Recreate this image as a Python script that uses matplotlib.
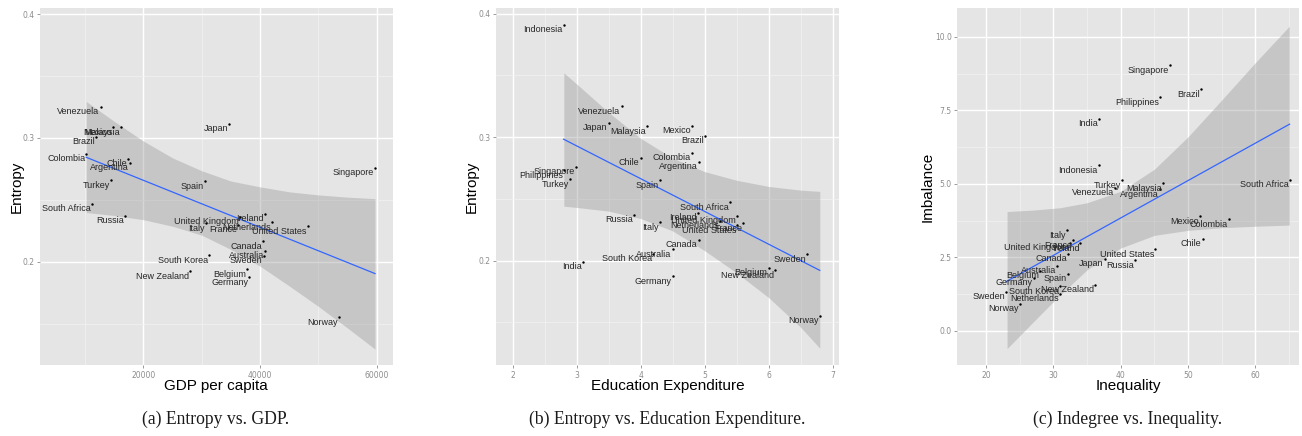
import numpy as np
import matplotlib
matplotlib.use("Agg")
import matplotlib.pyplot as plt

# panel (a): entropy vs GDP per capita
gdp_countries = ["Venezuela", "Mexico", "Malaysia", "Brazil", "Colombia", "Chile",
                 "Argentina", "Turkey", "Spain", "Japan", "Singapore", "South Africa",
                 "Russia", "South Korea", "New Zealand", "United Kingdom", "Italy",
                 "France", "Ireland", "Netherlands", "United States", "Canada",
                 "Australia", "Sweden", "Belgium", "Germany", "Norway"]
gdp = [12680, 14740, 16210, 11930, 10210, 17410, 17760, 14500, 30560, 34730, 59700,
       11140, 16800, 31240, 28040, 36560, 30730, 36300, 40840, 42040, 48210, 40560,
       40850, 40600, 37760, 38150, 53470]
gdp_entropy = [0.325, 0.3087, 0.3087, 0.3008, 0.2874, 0.2833, 0.2798, 0.2658, 0.265,
               0.3116, 0.276, 0.247, 0.237, 0.2054, 0.1922, 0.2363, 0.231, 0.230,
               0.2386, 0.232, 0.2286, 0.2167, 0.209, 0.205, 0.194, 0.1874, 0.1553]
# confidence band of the fit
gdp_band_x = [10210, 15000, 20000, 25000, 30000, 35000, 40000, 45000, 50000, 55000, 59700]
gdp_band_lo = [0.2398, 0.2374, 0.2340, 0.2287, 0.2215, 0.2100, 0.1965, 0.1805, 0.1640,
               0.1465, 0.1295]
gdp_band_hi = [0.3294, 0.3134, 0.2975, 0.2839, 0.2735, 0.2652, 0.2605, 0.2565, 0.2540,
               0.2522, 0.2510]

# panel (b): entropy vs education expenditure
edu_countries = ["Indonesia", "Venezuela", "Japan", "Malaysia", "Mexico", "Brazil",
                 "Chile", "Colombia", "Argentina", "Singapore", "Philippines", "Turkey",
                 "Spain", "South Africa", "Russia", "Italy", "Ireland", "United Kingdom",
                 "Netherlands", "France", "United States", "Canada", "Australia",
                 "South Korea", "India", "Sweden", "Belgium", "New Zealand", "Germany",
                 "Norway"]
edu = [2.797, 3.703, 3.5, 4.10, 4.80, 5.005, 4.0, 4.80, 4.906, 2.994, 2.80, 2.90,
       4.297, 5.40, 3.90, 4.30, 4.90, 5.505, 5.24, 5.60, 5.51, 4.906, 4.50, 4.20,
       3.10, 6.60, 6.0, 6.10, 4.50, 6.80]
edu_entropy = [0.391, 0.325, 0.3116, 0.3087, 0.309, 0.3008, 0.2833, 0.2874, 0.2798,
               0.276, 0.273, 0.2658, 0.265, 0.247, 0.237, 0.231, 0.2386, 0.2363,
               0.232, 0.230, 0.2286, 0.2167, 0.209, 0.2054, 0.199, 0.205, 0.194,
               0.1922, 0.1874, 0.1553]
edu_band_x = [2.8, 3.0, 3.5, 4.0, 4.5, 5.0, 5.5, 6.0, 6.5, 6.8]
edu_band_lo = [0.244, 0.243, 0.240, 0.234, 0.224, 0.208, 0.190, 0.170, 0.146, 0.129]
edu_band_hi = [0.352, 0.343, 0.320, 0.299, 0.283, 0.272, 0.265, 0.260, 0.257, 0.256]

# panel (c): imbalance vs inequality
ineq_countries = ["India", "Indonesia", "Singapore", "Brazil", "Philippines", "Turkey",
                  "Venezuela", "Malaysia", "Argentina", "South Africa", "Colombia",
                  "Mexico", "Chile", "United States", "Russia", "Japan", "New Zealand",
                  "Italy", "United Kingdom", "France", "Ireland", "Canada", "Australia",
                  "Spain", "Belgium", "Germany", "South Korea", "Netherlands", "Sweden",
                  "Norway"]
inequality = [36.76, 36.76, 47.36, 51.97, 45.87, 40.22, 39.14, 46.27, 45.87, 65.1,
              56.09, 51.8, 52.18, 45.09, 42.07, 37.6, 36.2, 31.95, 32.5, 32.9, 34.0,
              32.2, 30.56, 32.1, 28.0, 27.1, 31.0, 30.9, 22.97, 25.0]
imbalance = [7.21, 5.63, 9.03, 8.21, 7.95, 5.12, 4.86, 5.02, 4.81, 5.14, 3.79, 3.9,
             3.13, 2.77, 2.40, 2.46, 1.56, 3.42, 3.00, 3.08, 2.98, 2.63, 2.21, 1.94,
             2.05, 1.80, 1.52, 1.27, 1.34, 0.92]
ineq_band_x = [23.1, 27, 31, 35, 40, 45, 50, 55, 60, 65.05]
ineq_band_lo = [-0.60, 0.31, 1.23, 2.08, 2.82, 3.25, 3.42, 3.51, 3.56, 3.60]
ineq_band_hi = [4.06, 4.11, 4.19, 4.36, 4.75, 5.50, 6.60, 7.85, 9.12, 10.36]

BG = "#E5E5E5"
TICK = "#8c8c8c"


def panel(ax, names, x, y, band_x, band_lo, band_hi, xlim, ylim,
          xmaj, xmin, ymaj, ymin, xtl, ytl):
    x = np.array(x, float)
    y = np.array(y, float)
    ax.set_facecolor(BG)
    for s in ax.spines.values():
        s.set_visible(False)
    ax.set_xlim(xlim)
    ax.set_ylim(ylim)
    ax.set_xticks(xmaj)
    ax.set_xticklabels(xtl)
    ax.set_yticks(ymaj)
    ax.set_yticklabels(ytl)
    ax.set_xticks(xmin, minor=True)
    ax.set_yticks(ymin, minor=True)
    ax.set_axisbelow(True)
    ax.grid(which="major", color="white", lw=1.0)
    ax.grid(which="minor", color="#F2F2F2", lw=0.5)
    ax.tick_params(which="major", length=2.5, width=0.6, color=TICK,
                   labelcolor=TICK, labelsize=5.5, pad=1.5)
    ax.tick_params(which="minor", length=0)

    # band + least squares line
    ax.fill_between(band_x, band_lo, band_hi, color="#999999", alpha=0.4, lw=0, zorder=2)
    b1, b0 = np.polyfit(x, y, 1)
    xs = np.array([x.min(), x.max()])
    ax.plot(xs, b0 + b1 * xs, color="#3366FF", lw=0.9, zorder=3)

    ax.scatter(x, y, s=3, color="black", zorder=4, linewidths=0)
    for nm, xi, yi in zip(names, x, y):
        ax.annotate(nm, (xi, yi), xytext=(-0.8, -0.3), textcoords="offset points",
                    ha="right", va="top", fontsize=6.5, color="#262626",
                    family="Liberation Sans", zorder=5)


fig = plt.figure(figsize=(13.02, 4.36), dpi=100)
W, H = 1302.0, 436.0
bot = 1 - 365 / H
top = 1 - 8 / H

ax1 = fig.add_axes([40 / W, bot, (392.7 - 40) / W, top - bot])
panel(ax1, gdp_countries, gdp, gdp_entropy, gdp_band_x, gdp_band_lo, gdp_band_hi,
      (2280, 62730), (0.1167, 0.4049),
      [20000, 40000, 60000], [10000, 30000, 50000], [0.2, 0.3, 0.4], [0.15, 0.25, 0.35],
      ["20000", "40000", "60000"], ["0.2", "0.3", "0.4"])

ax2 = fig.add_axes([496 / W, bot, (839 - 496) / W, top - bot])
panel(ax2, edu_countries, edu, edu_entropy, edu_band_x, edu_band_lo, edu_band_hi,
      (1.74, 7.1), (0.1154, 0.4045),
      [2, 3, 4, 5, 6, 7], [2.5, 3.5, 4.5, 5.5, 6.5], [0.2, 0.3, 0.4], [0.15, 0.25, 0.35],
      ["2", "3", "4", "5", "6", "7"], ["0.2", "0.3", "0.4"])

ax3 = fig.add_axes([957.3 / W, bot, (1299 - 957.3) / W, top - bot])
panel(ax3, ineq_countries, inequality, imbalance, ineq_band_x, ineq_band_lo, ineq_band_hi,
      (15.7, 66.5), (-1.157, 10.98),
      [20, 30, 40, 50, 60], [25, 35, 45, 55, 65], [0, 2.5, 5, 7.5, 10],
      [1.25, 3.75, 6.25, 8.75], ["20", "30", "40", "50", "60"],
      ["0.0", "2.5", "5.0", "7.5", "10.0"])

ymid = (bot + top) / 2
lab = dict(fontsize=11, family="Liberation Sans", color="black")
fig.text(17 / W, ymid, "Entropy", rotation=90, ha="center", va="center", **lab)
fig.text(472 / W, ymid, "Entropy", rotation=90, ha="center", va="center", **lab)
fig.text(928 / W, ymid, "Imbalance", rotation=90, ha="center", va="center", **lab)

xl_y = 1 - 386 / H
fig.text((40 + 392.7) / 2 / W, xl_y, "GDP per capita", ha="center", va="center", **lab)
fig.text((496 + 839) / 2 / W, xl_y, "Education Expenditure", ha="center", va="center", **lab)
fig.text((957.3 + 1299) / 2 / W, xl_y, "Inequality", ha="center", va="center", **lab)

cap = dict(fontsize=12.7, family="Liberation Serif", color="#1a1a1a")
cap_y = 1 - 419 / H
fig.text(216 / W, cap_y, "(a) Entropy vs. GDP.", ha="center", va="center", **cap)
fig.text(667 / W, cap_y, "(b) Entropy vs. Education Expenditure.", ha="center", va="center", **cap)
fig.text(1128 / W, cap_y, "(c) Indegree vs. Inequality.", ha="center", va="center", **cap)

fig.savefig("out.png", dpi=100)
